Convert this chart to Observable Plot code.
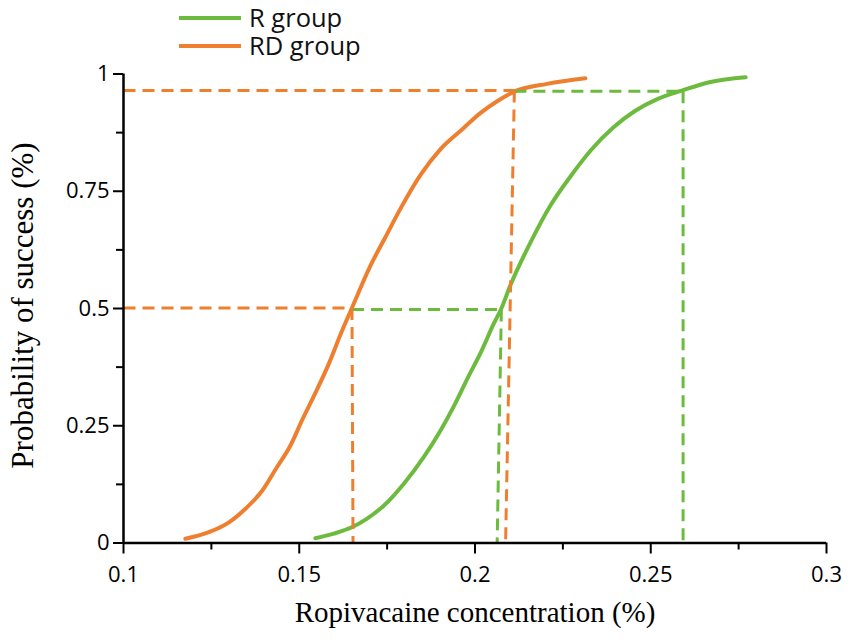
<!DOCTYPE html>
<html>
<head>
<meta charset="utf-8">
<script src="https://cdn.jsdelivr.net/npm/d3@7"></script>
<script src="https://cdn.jsdelivr.net/npm/@observablehq/plot@0.6"></script>
<style>
  html, body { margin: 0; padding: 0; background: #fff; }
  #chart svg { display: block; }
</style>
</head>
<body>
<div id="chart"></div>
<script>
// ---- data ----
const seriesNames = ["R group", "RD group"];
const seriesColors = ["#6DBB3E", "#EE7F2F"];

// RD group curve (orange)
const rdX = [0.1176, 0.1243, 0.1300, 0.1347, 0.1395, 0.1435, 0.1475, 0.1510, 0.1546, 0.1584, 0.1622, 0.1648,
             0.1703, 0.1745, 0.1788, 0.1845, 0.1902, 0.1968, 0.2016, 0.2063, 0.2110, 0.2205, 0.2314];
const rdY = [0.009, 0.023, 0.044, 0.073, 0.112, 0.160, 0.208, 0.265, 0.320, 0.382, 0.453, 0.498,
             0.592, 0.652, 0.713, 0.785, 0.840, 0.885, 0.917, 0.942, 0.962, 0.979, 0.991];

// R group curve (green)
const rX = [0.1546, 0.1598, 0.1651, 0.1693, 0.1741, 0.1797, 0.1854, 0.1902, 0.1940, 0.1978, 0.2020,
            0.2053, 0.2075, 0.2101, 0.2158, 0.2215, 0.2272, 0.2329, 0.2395, 0.2455, 0.2520, 0.2590, 0.2670, 0.2770];
const rY = [0.010, 0.020, 0.034, 0.052, 0.080, 0.126, 0.183, 0.240, 0.292, 0.350, 0.412,
            0.467, 0.500, 0.550, 0.641, 0.720, 0.782, 0.837, 0.887, 0.921, 0.947, 0.965, 0.983, 0.993];

// dashed reference segments: [x1, y1, x2, y2]
const rdGuides = [
  [0.1, 0.965, 0.2112, 0.965],
  [0.2112, 0.965, 0.2087, 0],
  [0.1, 0.501, 0.1650, 0.501],
  [0.1650, 0.501, 0.1653, 0]
];
const rGuides = [
  [0.2112, 0.963, 0.2592, 0.963],
  [0.2592, 0.963, 0.2592, 0],
  [0.1650, 0.498, 0.2075, 0.498],
  [0.2075, 0.498, 0.2063, 0]
];

const xMajor = [0.1, 0.15, 0.2, 0.25, 0.3];
const xMinor = [0.125, 0.175, 0.225, 0.275];
const yMajor = [0, 0.25, 0.5, 0.75, 1];
const yMinor = [0.125, 0.375, 0.625, 0.875];

const xTitle = "Ropivacaine concentration (%)";
const yTitle = "Probability of success (%)";

// ---- build tables ----
const rdData = rdX.map((x, i) => ({x, y: rdY[i]}));
const rData = rX.map((x, i) => ({x, y: rY[i]}));
const toSeg = s => ({x1: s[0], y1: s[1], x2: s[2], y2: s[3]});

const fmt = d => String(+d.toFixed(3));
const sans = "'Open Sans', 'Noto Sans', sans-serif";
const serif = "'Liberation Serif', 'DejaVu Serif', serif";
const dash = "12,7";

const chart = Plot.plot({
  width: 850,
  height: 642,
  marginLeft: 123,
  marginRight: 24,
  marginTop: 73.5,
  marginBottom: 99.5,
  style: {background: "#fff", color: "#000"},
  x: {domain: [0.1, 0.3]},
  y: {domain: [0, 1]},
  marks: [
    Plot.axisX(xMajor, {tickSize: 11, tickPadding: 12, tickFormat: fmt, fontSize: 22, fontFamily: sans, strokeWidth: 2, label: null}),
    Plot.axisX(xMinor, {tickSize: 7, tickFormat: () => "", strokeWidth: 2, label: null}),
    Plot.axisY(yMajor, {tickSize: 10, tickPadding: 4, tickFormat: fmt, fontSize: 22, fontFamily: sans, strokeWidth: 2, label: null}),
    Plot.axisY(yMinor, {tickSize: 7, tickFormat: () => "", strokeWidth: 2, label: null}),
    Plot.line(rData, {x: "x", y: "y", stroke: seriesColors[0], strokeWidth: 4, curve: "monotone-x"}),
    Plot.line(rdData, {x: "x", y: "y", stroke: seriesColors[1], strokeWidth: 4, curve: "monotone-x"}),
    Plot.link(rGuides.map(toSeg), {x1: "x1", y1: "y1", x2: "x2", y2: "y2", stroke: seriesColors[0], strokeWidth: 3, strokeDasharray: dash}),
    Plot.link(rdGuides.map(toSeg), {x1: "x1", y1: "y1", x2: "x2", y2: "y2", stroke: seriesColors[1], strokeWidth: 3, strokeDasharray: dash}),
    Plot.ruleY([0], {stroke: "#000", strokeWidth: 2.5}),
    Plot.ruleX([0.1], {stroke: "#000", strokeWidth: 2.5}),
    Plot.text([xTitle], {frameAnchor: "bottom", dy: 79, textAnchor: "middle", fontSize: 29, fontFamily: serif, fill: "#000"}),
    Plot.text([yTitle], {frameAnchor: "left", textAnchor: "middle", dx: -100, dy: -3, rotate: -90, fontSize: 31, fontFamily: serif, fill: "#000"})
  ]
});

// legend drawn inside the same SVG, above the plotting area
const svg = d3.select(chart);
const legend = svg.append("g").attr("class", "legend");
seriesNames.forEach((name, i) => {
  const cy = 18 + i * 28;
  legend.append("line")
    .attr("x1", 179).attr("x2", 241).attr("y1", cy).attr("y2", cy)
    .attr("stroke", seriesColors[i]).attr("stroke-width", 4);
  legend.append("text")
    .attr("x", 249).attr("y", cy).attr("dy", "0.36em")
    .attr("text-anchor", "start")
    .attr("font-family", sans).attr("font-size", 25.5).attr("fill", "#111")
    .text(name);
});

document.getElementById("chart").appendChild(chart);
</script>
</body>
</html>
